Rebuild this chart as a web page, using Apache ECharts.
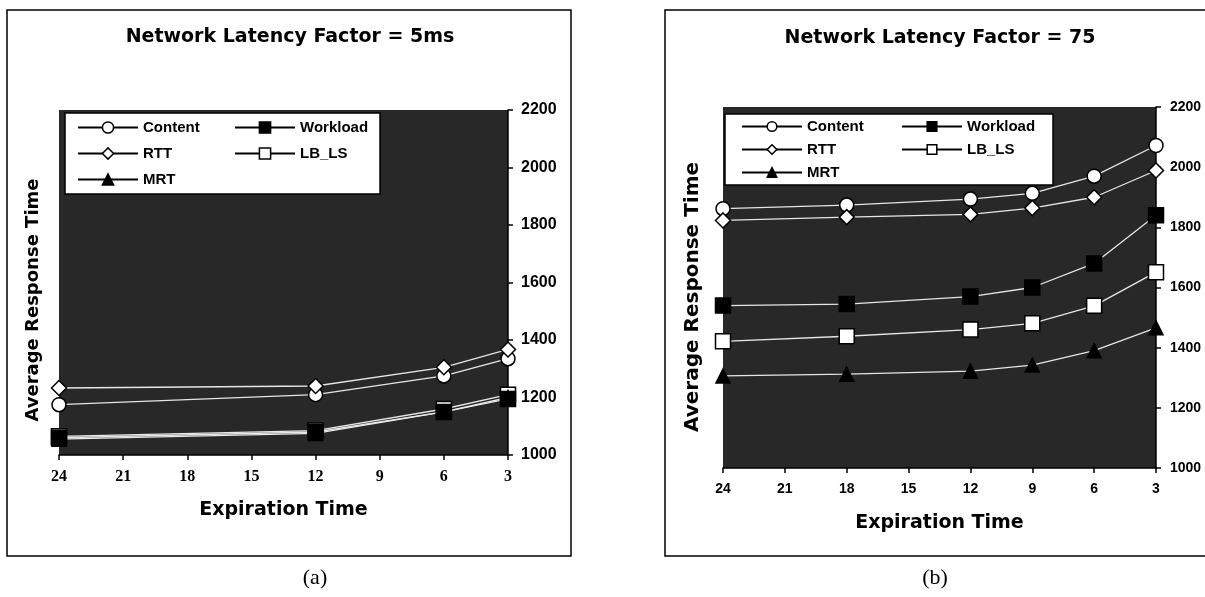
<!DOCTYPE html>
<html>
<head>
<meta charset="utf-8">
<script src="https://cdn.jsdelivr.net/npm/echarts@6/dist/echarts.min.js"></script>
<style>
html,body{margin:0;padding:0;background:#fff;}
#c{width:1205px;height:597px;}
</style>
</head>
<body>
<div id="c"></div>
<script>
// ---- data ----
var seriesNames = ['Content', 'Workload', 'RTT', 'LB_LS', 'MRT'];
var yTicks = [1000, 1200, 1400, 1600, 1800, 2000, 2200];
var xTicks = [24, 21, 18, 15, 12, 9, 6, 3];

var expA = [24, 12, 6, 3];
var contentA = [1175, 1210, 1275, 1335];
var rttA = [1233, 1240, 1305, 1367];
var workloadA = [1060, 1080, 1150, 1195];
var lbA = [1065, 1085, 1160, 1210];
var mrtA = [1055, 1075, 1150, 1200];

var expB = [24, 18, 12, 9, 6, 3];
var contentB = [1862, 1874, 1894, 1913, 1970, 2072];
var rttB = [1823, 1834, 1843, 1864, 1900, 1989];
var workloadB = [1540, 1545, 1570, 1600, 1680, 1840];
var lbB = [1421, 1438, 1460, 1481, 1539, 1651];
var mrtB = [1306, 1312, 1322, 1342, 1390, 1466];

function pairs(xs, ys) { return xs.map(function (x, i) { return [x, ys[i]]; }); }

var styles = {
  'Content': { symbol: 'circle', size: 14, color: '#fff', border: '#000' },
  'RTT': { symbol: 'diamond', size: 15, color: '#fff', border: '#000' },
  'Workload': { symbol: 'rect', size: 15, color: '#000', border: '#000' },
  'LB_LS': { symbol: 'rect', size: 15, color: '#fff', border: '#000' },
  'MRT': { symbol: 'triangle', size: 14, color: '#000', border: '#000' }
};

function mkSeries(name, data, idx) {
  var s = styles[name];
  return {
    name: name, type: 'line', xAxisIndex: idx, yAxisIndex: idx,
    data: data, symbol: s.symbol, symbolSize: s.size,
    lineStyle: { color: '#e6e6e6', width: 1.3 },
    itemStyle: { color: s.color, borderColor: s.border, borderWidth: 1.5 },
    emphasis: { disabled: true }, animation: false
  };
}

var drawOrder = ['LB_LS', 'Workload', 'MRT', 'Content', 'RTT'];
var dataA = { 'Content': contentA, 'RTT': rttA, 'Workload': workloadA, 'LB_LS': lbA, 'MRT': mrtA };
var dataB = { 'Content': contentB, 'RTT': rttB, 'Workload': workloadB, 'LB_LS': lbB, 'MRT': mrtB };
var series = [];
drawOrder.forEach(function (n) { series.push(mkSeries(n, pairs(expA, dataA[n]), 0)); });
drawOrder.forEach(function (n) { series.push(mkSeries(n, pairs(expB, dataB[n]), 1)); });

function xAxisCfg(idx, serif, fs) {
  return {
    gridIndex: idx, type: 'value', inverse: true, min: 3, max: 24, interval: 3,
    name: 'Expiration Time', nameLocation: 'middle', nameGap: 46,
    nameTextStyle: { fontFamily: 'DejaVu Sans', fontWeight: 'bold', fontSize: 19, color: '#000' },
    axisLine: { show: true, onZero: false, lineStyle: { color: '#000', width: 1.5 } },
    axisTick: { show: true, inside: false, length: 5, lineStyle: { color: '#000', width: 1.5 } },
    axisLabel: { margin: 14, fontFamily: serif ? 'Liberation Serif' : 'Liberation Sans', fontWeight: 'bold', fontSize: fs, color: '#000',
      formatter: function (v) { return String(v); } },
    splitLine: { show: false }
  };
}
function yAxisCfg(idx, fs, margin) {
  return {
    gridIndex: idx, type: 'value', position: 'right', min: 1000, max: 2200, interval: 200,
    axisLine: { show: true, onZero: false, lineStyle: { color: '#000', width: 1.5 } },
    axisTick: { show: true, inside: false, length: 5, lineStyle: { color: '#000', width: 1.5 } },
    axisLabel: { margin: margin, fontFamily: 'Liberation Sans', fontWeight: 'bold', fontSize: fs, color: '#000',
      formatter: function (v) { return String(v); } },
    splitLine: { show: false }
  };
}

function legendCfg(left, top, gap, itemH, textW, pad) {
  return {
    data: ['Content', 'Workload', 'RTT', 'LB_LS', 'MRT'],
    left: left, top: top, orient: 'horizontal', width: 2 * (60 + 5 + textW) + gap + 4,
    itemWidth: 60, itemHeight: itemH, itemGap: gap,
    backgroundColor: '#fff', borderColor: '#000', borderWidth: 1.5, padding: pad,
    lineStyle: { color: '#000', width: 2 },
    itemStyle: { borderColor: '#000', borderWidth: 1.5 },
    formatter: '{t|{name}}',
    textStyle: { fontFamily: 'Liberation Sans', fontWeight: 'bold', fontSize: 15, color: '#000',
      rich: { t: { width: textW, height: itemH, lineHeight: itemH, fontFamily: 'Liberation Sans', fontWeight: 'bold', fontSize: 15, color: '#000' } } },
    selectedMode: false
  };
}

var option = {
  backgroundColor: '#fff',
  animation: false,
  title: [
    { text: 'Network Latency Factor = 5ms', left: 290, top: 28, textAlign: 'center', padding: 0,
      textStyle: { fontFamily: 'DejaVu Sans', fontWeight: 'bold', fontSize: 19, color: '#000' } },
    { text: 'Network Latency Factor = 75', left: 940, top: 29, textAlign: 'center', padding: 0,
      textStyle: { fontFamily: 'DejaVu Sans', fontWeight: 'bold', fontSize: 19, color: '#000' } }
  ],
  grid: [
    { left: 59, right: 697, top: 110, bottom: 142, show: true, backgroundColor: '#282828', borderWidth: 0 },
    { left: 723, right: 49, top: 107, bottom: 129, show: true, backgroundColor: '#282828', borderWidth: 0 }
  ],
  xAxis: [xAxisCfg(0, true, 16), xAxisCfg(1, false, 14)],
  yAxis: [yAxisCfg(0, 16, 13), yAxisCfg(1, 14, 14)],
  legend: [
    legendCfg(65, 113, 11, 14, 80, [7, 0, 7, 12]),
    legendCfg(725, 114, 8, 12, 86, [5, 0, 5, 16])
  ],
  series: series,
  graphic: [
    { type: 'rect', shape: { x: 7, y: 10, width: 564, height: 546 }, style: { fill: 'none', stroke: '#000', lineWidth: 1.5 }, silent: true },
    { type: 'rect', shape: { x: 665, y: 10, width: 560, height: 546 }, style: { fill: 'none', stroke: '#000', lineWidth: 1.5 }, silent: true },
    { type: 'text', x: 33, y: 300, rotation: Math.PI / 2,
      style: { text: 'Average Response Time', fill: '#000', font: 'bold 18px "DejaVu Sans"', align: 'center', verticalAlign: 'middle' } },
    { type: 'text', x: 693, y: 297, rotation: Math.PI / 2,
      style: { text: 'Average Response Time', fill: '#000', font: 'bold 20px "DejaVu Sans"', align: 'center', verticalAlign: 'middle' } },
    { type: 'text', x: 315, y: 578,
      style: { text: '(a)', fill: '#000', font: '22px "Liberation Serif"', align: 'center', verticalAlign: 'middle' } },
    { type: 'text', x: 935, y: 578,
      style: { text: '(b)', fill: '#000', font: '22px "Liberation Serif"', align: 'center', verticalAlign: 'middle' } }
  ]
};

var chart = echarts.init(document.getElementById('c'), null, { renderer: 'canvas' });
chart.setOption(option);
</script>
</body>
</html>
